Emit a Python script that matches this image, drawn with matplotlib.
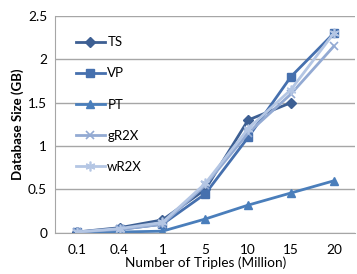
import matplotlib
matplotlib.use("Agg")
import matplotlib.pyplot as plt
import numpy as np

plt.rcParams['font.family'] = ['Lato', 'DejaVu Sans']

categories = ["0.1", "0.4", "1", "5", "10", "15", "20"]
ts = [0.01, 0.06, 0.15, 0.50, 1.30, 1.50, np.nan]
vp = [0.01, 0.04, 0.10, 0.45, 1.10, 1.80, 2.30]
pt = [0.01, 0.01, 0.02, 0.16, 0.32, 0.46, 0.60]
gr2x = [0.01, 0.04, 0.10, 0.55, 1.15, 1.60, 2.15]
wr2x = [0.01, 0.05, 0.12, 0.57, 1.20, 1.65, 2.30]

fig = plt.figure(figsize=(3.57, 2.74), dpi=100)
ax = fig.add_axes([0.155, 0.150, 0.84, 0.792])

x = np.arange(len(categories))

# serie
ax.plot(x, ts, color="#3D5F93", marker="D", markersize=5, lw=2, label="TS")
ax.plot(x, vp, color="#4670AE", marker="s", markersize=6, lw=2, label="VP")
ax.plot(x, pt, color="#4A7EBB", marker="^", markersize=6, lw=2, label="PT")
ax.plot(x, gr2x, color="#93AAD3", marker="x", markersize=6, mew=1.2, lw=2, label="gR2X")
ax.plot(x, wr2x, color="#B4C6E4", marker=(6, 2, 0), markersize=7, mew=1.2, lw=2, label="wR2X")

ax.set_xlim(-0.5, len(categories) - 0.5)
ax.set_ylim(0, 2.5)
ax.set_yticks([0, 0.5, 1, 1.5, 2, 2.5])
ax.set_yticklabels(["0", "0.5", "1", "1.5", "2", "2.5"])
ax.set_xticks(x)
ax.set_xticklabels(categories)
ax.tick_params(axis="both", length=0, labelsize=9.8)
ax.tick_params(axis="x", pad=8)
ax.tick_params(axis="y", pad=6)

ax.grid(axis="y", color="#A6A6A6", lw=1)
ax.set_axisbelow(True)
for s in ["top", "right"]:
    ax.spines[s].set_visible(False)
ax.spines["left"].set_color("#A6A6A6")
ax.spines["bottom"].set_color("#A6A6A6")

ax.set_xlabel("Number of Triples (Million)", fontsize=9.8, labelpad=0.5)
ax.set_ylabel("Database Size (GB)", fontsize=9.5, fontweight="bold", labelpad=3)

ax.legend(loc="upper left", bbox_to_anchor=(0.05, 0.93), frameon=False,
          fontsize=9.5, handlelength=2.2, labelspacing=1.45, handletextpad=0.2,
          borderaxespad=0)

fig.savefig("out.png", dpi=100)
